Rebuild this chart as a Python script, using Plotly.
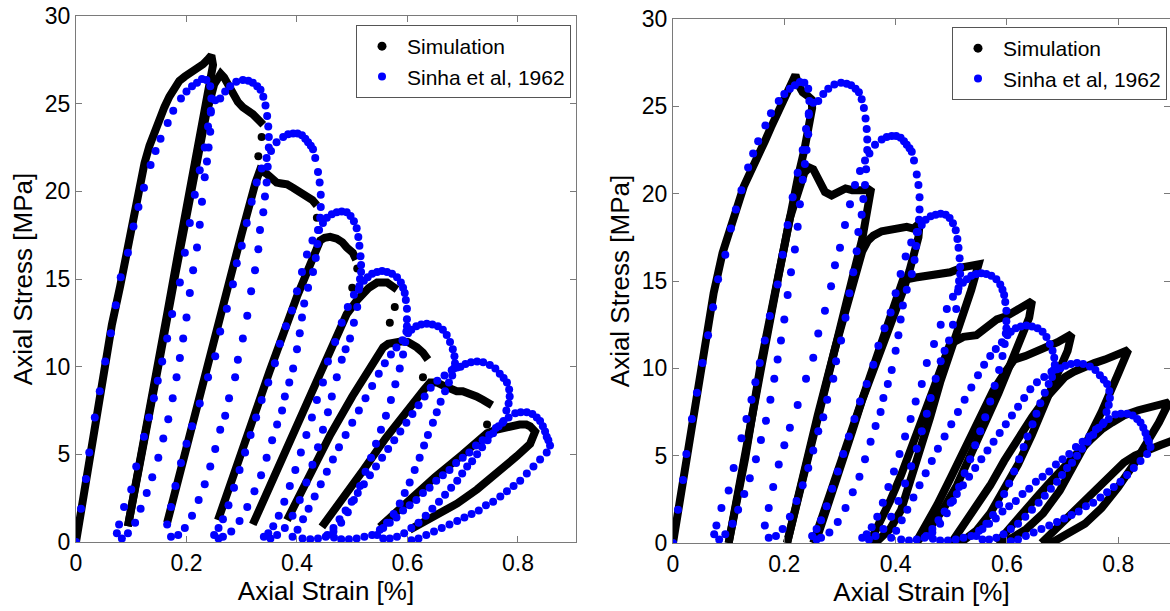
import plotly.graph_objects as go

# ---------------- Experimental data (Sinha et al, 1962) ----------------
EXP_ENV_X = [0.000, 0.009, 0.018, 0.024, 0.034, 0.043, 0.053, 0.063, 0.072, 0.081, 0.094, 0.104, 0.113, 0.123, 0.135, 0.144, 0.153, 0.166, 0.176, 0.190, 0.200, 0.210, 0.219, 0.228, 0.236, 0.243]
EXP_ENV_Y = [0.0, 1.9, 3.6, 5.1, 7.1, 8.6, 10.3, 11.9, 13.5, 15.1, 16.5, 18.0, 19.1, 20.2, 21.5, 22.3, 23.0, 23.9, 24.6, 25.3, 25.7, 26.0, 26.2, 26.4, 26.35, 26.0]

EXP_U1_X = [0.245, 0.244, 0.243, 0.240, 0.237, 0.233, 0.228, 0.224, 0.219, 0.212, 0.206, 0.200, 0.194, 0.188, 0.182, 0.175, 0.167, 0.158, 0.149, 0.138, 0.128, 0.117, 0.107, 0.094, 0.083, 0.074]
EXP_U1_Y = [25.3, 24.5, 23.4, 22.5, 21.7, 20.8, 19.4, 18.1, 16.8, 15.5, 14.2, 12.8, 11.6, 10.5, 9.4, 8.2, 7.0, 5.9, 4.8, 3.7, 2.8, 1.9, 1.1, 0.5, 0.2, 0.5]
EXP_R1_X = [0.078, 0.087, 0.100, 0.109, 0.123, 0.132, 0.141, 0.148, 0.156, 0.165, 0.174, 0.188, 0.197, 0.206, 0.215, 0.224, 0.233, 0.239, 0.244]
EXP_R1_Y = [1.0, 2.0, 3.0, 4.3, 6.0, 7.1, 8.2, 9.2, 10.3, 11.6, 13.0, 14.8, 16.5, 18.2, 19.8, 21.2, 22.5, 23.7, 24.6]
EXP_D2_X = [0.252, 0.261, 0.270, 0.279, 0.290, 0.302, 0.312, 0.320, 0.328, 0.334, 0.339, 0.343, 0.346, 0.348, 0.349]
EXP_D2_Y = [25.2, 25.3, 25.7, 26.0, 26.25, 26.35, 26.3, 26.2, 26.0, 25.8, 25.4, 24.9, 24.3, 23.7, 23.1]

EXP_U2_X = [0.349, 0.347, 0.345, 0.342, 0.339, 0.333, 0.330, 0.324, 0.317, 0.310, 0.302, 0.293, 0.288, 0.277, 0.270, 0.261, 0.252, 0.243, 0.233, 0.222, 0.210, 0.197, 0.185, 0.172]
EXP_U2_Y = [22.5, 21.4, 20.5, 19.7, 18.8, 17.8, 16.7, 15.5, 14.3, 12.9, 11.6, 10.4, 9.4, 8.2, 7.2, 6.4, 5.3, 4.3, 3.3, 2.4, 1.5, 0.8, 0.4, 0.3]
EXP_R2_X = [0.165, 0.172, 0.180, 0.190, 0.200, 0.210, 0.224, 0.239, 0.252, 0.261, 0.273, 0.284, 0.291, 0.300, 0.309, 0.318, 0.327, 0.336, 0.345]
EXP_R2_Y = [1.0, 2.0, 3.2, 4.5, 5.6, 6.6, 7.9, 9.4, 10.6, 12.0, 13.3, 14.7, 15.9, 16.9, 18.2, 19.4, 20.5, 21.3, 21.9]
EXP_D3_X = [0.353, 0.363, 0.375, 0.384, 0.393, 0.401, 0.409, 0.415, 0.420, 0.425, 0.429, 0.433, 0.438, 0.441, 0.443, 0.443, 0.442]
EXP_D3_Y = [22.3, 22.8, 23.1, 23.25, 23.3, 23.3, 23.2, 23.0, 22.8, 22.6, 22.4, 21.9, 21.1, 20.5, 19.8, 19.1, 18.5]

EXP_U3_X = [0.440, 0.437, 0.434, 0.429, 0.420, 0.413, 0.409, 0.405, 0.400, 0.393, 0.386, 0.378, 0.373, 0.364, 0.355, 0.345, 0.335, 0.323, 0.310, 0.296, 0.281, 0.266, 0.258]
EXP_U3_Y = [17.8, 17.0, 16.2, 15.4, 14.5, 13.6, 12.8, 11.9, 11.0, 9.9, 9.1, 8.3, 7.5, 6.7, 5.8, 4.8, 3.8, 2.9, 2.0, 1.2, 0.6, 0.3, 0.2]
EXP_R3_X = [0.250, 0.258, 0.266, 0.276, 0.286, 0.296, 0.306, 0.316, 0.326, 0.336, 0.348, 0.360, 0.369, 0.380, 0.391, 0.400, 0.409, 0.418, 0.428, 0.438, 0.447]
EXP_R3_Y = [0.4, 0.8, 1.3, 2.1, 3.1, 4.1, 5.1, 6.1, 7.1, 8.1, 9.1, 10.2, 11.3, 12.3, 13.2, 14.3, 15.4, 16.4, 17.2, 17.8, 18.2]
EXP_D4_X = [0.454, 0.463, 0.472, 0.481, 0.490, 0.497, 0.503, 0.508, 0.511, 0.513, 0.515, 0.516, 0.516, 0.514]
EXP_D4_Y = [18.5, 18.7, 18.8, 18.85, 18.8, 18.6, 18.3, 17.9, 17.4, 16.9, 16.3, 15.8, 15.4, 15.0]

EXP_U4_X = [0.512, 0.509, 0.503, 0.496, 0.488, 0.481, 0.472, 0.463, 0.456, 0.447, 0.438, 0.428, 0.417, 0.405, 0.392, 0.378, 0.364, 0.352]
EXP_U4_Y = [14.4, 13.4, 12.5, 11.6, 11.0, 10.4, 9.4, 8.3, 7.4, 6.4, 5.4, 4.4, 3.4, 2.4, 1.5, 0.8, 0.4, 0.2]
EXP_R4_X = [0.340, 0.348, 0.357, 0.367, 0.377, 0.387, 0.397, 0.407, 0.417, 0.427, 0.436, 0.447, 0.456, 0.469, 0.481, 0.492, 0.503, 0.513, 0.521]
EXP_R4_Y = [0.3, 0.5, 0.9, 1.5, 2.3, 3.2, 4.1, 5.1, 6.1, 7.1, 8.1, 9.1, 10.3, 11.4, 12.5, 13.4, 14.1, 14.6, 14.9]
EXP_D5_X = [0.528, 0.536, 0.545, 0.554, 0.563, 0.572, 0.581, 0.588, 0.592, 0.595, 0.597, 0.599, 0.599, 0.599, 0.598]
EXP_D5_Y = [15.1, 15.3, 15.4, 15.45, 15.4, 15.3, 15.1, 14.8, 14.5, 14.2, 13.8, 13.3, 12.7, 12.3, 12.0]

EXP_U5_X = [0.596, 0.592, 0.586, 0.578, 0.570, 0.561, 0.552, 0.543, 0.534, 0.524, 0.514, 0.503, 0.492, 0.480, 0.466, 0.452, 0.438, 0.424, 0.410]
EXP_U5_Y = [11.4, 10.7, 9.9, 9.0, 8.1, 7.2, 6.4, 5.6, 4.8, 4.0, 3.2, 2.4, 1.7, 1.1, 0.6, 0.3, 0.2, 0.15, 0.2]
EXP_R5_X = [0.392, 0.401, 0.411, 0.421, 0.432, 0.443, 0.454, 0.465, 0.476, 0.488, 0.500, 0.512, 0.524, 0.536, 0.548, 0.559, 0.570, 0.580, 0.591, 0.601]
EXP_R5_Y = [0.3, 0.7, 1.3, 1.9, 2.6, 3.3, 4.0, 4.7, 5.4, 6.1, 6.8, 7.5, 8.2, 8.9, 9.6, 10.2, 10.7, 11.1, 11.5, 11.9]
EXP_D6_X = [0.607, 0.616, 0.625, 0.635, 0.645, 0.655, 0.664, 0.671, 0.677, 0.682, 0.685, 0.686, 0.684]
EXP_D6_Y = [12.1, 12.3, 12.4, 12.45, 12.4, 12.3, 12.1, 11.8, 11.4, 11.0, 10.6, 10.2, 9.9]

EXP_U6_X = [0.681, 0.675, 0.668, 0.660, 0.653, 0.646, 0.637, 0.630, 0.622, 0.613, 0.604, 0.595, 0.586, 0.575, 0.563, 0.550, 0.536, 0.522, 0.508, 0.494, 0.480, 0.467]
EXP_U6_Y = [9.5, 9.1, 8.6, 8.0, 7.4, 6.8, 6.1, 5.5, 4.8, 4.1, 3.4, 2.8, 2.2, 1.6, 1.1, 0.7, 0.4, 0.3, 0.2, 0.15, 0.15, 0.25]
EXP_R6_X = [0.455, 0.466, 0.477, 0.488, 0.499, 0.510, 0.521, 0.532, 0.543, 0.554, 0.565, 0.576, 0.587, 0.598, 0.609, 0.620, 0.631, 0.642, 0.654, 0.667, 0.680, 0.690]
EXP_R6_Y = [0.4, 0.8, 1.3, 1.8, 2.3, 2.8, 3.3, 3.8, 4.3, 4.8, 5.3, 5.8, 6.3, 6.8, 7.3, 7.8, 8.3, 8.8, 9.2, 9.5, 9.8, 9.95]
EXP_D7_X = [0.696, 0.705, 0.715, 0.726, 0.737, 0.749, 0.759, 0.767, 0.774, 0.780, 0.784, 0.785, 0.783, 0.779]
EXP_D7_Y = [10.0, 10.15, 10.25, 10.3, 10.25, 10.1, 9.9, 9.6, 9.35, 9.1, 8.7, 8.3, 7.9, 7.5]

EXP_U7_X = [0.774, 0.765, 0.755, 0.745, 0.735, 0.726, 0.717, 0.708, 0.699, 0.690, 0.679, 0.668, 0.657, 0.645, 0.633, 0.620, 0.607, 0.594, 0.581, 0.568, 0.556]
EXP_U7_Y = [6.9, 6.6, 6.2, 5.8, 5.4, 5.0, 4.6, 4.3, 3.9, 3.5, 3.1, 2.7, 2.3, 1.9, 1.5, 1.1, 0.8, 0.5, 0.3, 0.2, 0.2]
EXP_R7_X = [0.545, 0.556, 0.568, 0.580, 0.592, 0.604, 0.616, 0.628, 0.640, 0.652, 0.664, 0.676, 0.688, 0.700, 0.712, 0.724, 0.736, 0.748, 0.760, 0.772, 0.783]
EXP_R7_Y = [0.4, 0.8, 1.1, 1.4, 1.8, 2.1, 2.4, 2.8, 3.1, 3.5, 3.8, 4.1, 4.5, 4.8, 5.1, 5.5, 5.8, 6.1, 6.5, 6.8, 7.1]
EXP_D8_X = [0.795, 0.805, 0.816, 0.826, 0.834, 0.840, 0.845, 0.849, 0.852, 0.855, 0.858]
EXP_D8_Y = [7.35, 7.4, 7.4, 7.3, 7.1, 6.9, 6.6, 6.3, 6.0, 5.8, 5.5]
EXP_U8_X = [0.852, 0.840, 0.828, 0.816, 0.804, 0.792, 0.780, 0.768, 0.755, 0.742, 0.729, 0.716, 0.703, 0.690, 0.676, 0.662, 0.648, 0.634, 0.620, 0.607]
EXP_U8_Y = [5.1, 4.7, 4.3, 3.9, 3.5, 3.2, 2.9, 2.6, 2.3, 2.1, 1.8, 1.6, 1.4, 1.2, 1.0, 0.8, 0.6, 0.4, 0.2, 0.1]

# ---------------- Simulation, left panel ----------------
S1_C1_X = [0.000, 0.010, 0.020, 0.035, 0.050, 0.065, 0.080, 0.090, 0.100, 0.108, 0.116, 0.124, 0.133, 0.142, 0.151, 0.160, 0.169, 0.178, 0.187, 0.197, 0.208, 0.220, 0.230, 0.238, 0.245, 0.248, 0.240, 0.225, 0.205, 0.185, 0.165, 0.140, 0.118, 0.094]
S1_C1_Y = [0.0, 1.9, 3.7, 7.0, 10.0, 12.4, 14.6, 16.2, 17.9, 19.3, 20.6, 21.6, 22.6, 23.4, 24.1, 24.8, 25.4, 25.9, 26.3, 26.55, 26.75, 27.0, 27.25, 27.5, 27.75, 27.2, 25.9, 23.3, 19.9, 16.5, 13.0, 8.7, 5.0, 0.9]
S1_C2_X = [0.094, 0.120, 0.150, 0.180, 0.210, 0.235, 0.250, 0.257, 0.262, 0.268, 0.273, 0.279, 0.284, 0.293, 0.302, 0.320, 0.339]
S1_C2_Y = [0.9, 5.0, 10.2, 15.3, 20.4, 24.3, 26.1, 26.6, 26.7, 26.5, 26.2, 25.7, 25.4, 25.1, 24.8, 24.4, 23.8]
S1_C3_X = [0.165, 0.200, 0.250, 0.300, 0.325, 0.333, 0.345, 0.355, 0.363, 0.372, 0.382, 0.393, 0.405, 0.418, 0.428, 0.436]
S1_C3_Y = [1.1, 5.5, 11.7, 17.6, 20.5, 21.2, 21.0, 20.7, 20.5, 20.45, 20.4, 20.2, 20.0, 19.7, 19.5, 19.2]
S1_C4_X = [0.257, 0.300, 0.350, 0.400, 0.430, 0.442, 0.450, 0.460, 0.472, 0.482, 0.490, 0.501, 0.507]
S1_C4_Y = [1.25, 5.2, 9.7, 14.0, 16.5, 17.2, 17.35, 17.4, 17.3, 17.1, 16.8, 16.5, 16.1]
S1_C5_X = [0.320, 0.360, 0.400, 0.450, 0.490, 0.509, 0.515, 0.520, 0.530, 0.545, 0.555, 0.563, 0.572, 0.581]
S1_C5_Y = [1.0, 3.8, 6.7, 10.3, 13.0, 13.8, 14.0, 14.2, 14.5, 14.8, 14.85, 14.8, 14.6, 14.4]
S1_C6_X = [0.382, 0.420, 0.460, 0.500, 0.530, 0.550, 0.556, 0.565, 0.575, 0.590, 0.601, 0.610, 0.617, 0.628, 0.637]
S1_C6_Y = [1.25, 3.6, 6.1, 8.3, 9.9, 10.8, 11.1, 11.3, 11.4, 11.45, 11.4, 11.25, 11.1, 10.8, 10.4]
S1_C7_X = [0.445, 0.480, 0.520, 0.560, 0.600, 0.630, 0.641, 0.653, 0.663, 0.673, 0.689, 0.700, 0.713, 0.725, 0.737, 0.753]
S1_C7_Y = [0.86, 2.3, 4.1, 5.9, 7.6, 8.7, 9.1, 9.1, 8.95, 8.8, 8.6, 8.6, 8.5, 8.3, 8.1, 7.8]
S1_C8_X = [0.550, 0.600, 0.650, 0.700, 0.730, 0.744, 0.760, 0.773, 0.790, 0.803, 0.815, 0.822, 0.831, 0.825, 0.822, 0.798, 0.762, 0.726, 0.690, 0.646, 0.604]
S1_C8_Y = [0.86, 2.3, 3.7, 5.0, 5.8, 6.2, 6.4, 6.5, 6.6, 6.7, 6.7, 6.6, 6.3, 5.9, 5.6, 4.9, 3.9, 3.0, 2.2, 1.4, 0.7]
S1_DROP_X = [0.336, 0.330, 0.436, 0.509, 0.500, 0.577, 0.568, 0.628, 0.744]
S1_DROP_Y = [23.1, 22.0, 18.5, 15.6, 14.5, 13.4, 12.5, 9.4, 6.7]

# ---------------- Simulation, right panel ----------------
S2_C1_X = [0.000, 0.010, 0.020, 0.035, 0.050, 0.065, 0.073, 0.089, 0.104, 0.116, 0.127, 0.140, 0.153, 0.165, 0.176, 0.188, 0.198, 0.212, 0.220, 0.226, 0.233, 0.242, 0.249, 0.250, 0.246, 0.236, 0.225, 0.213, 0.200, 0.189, 0.160, 0.130, 0.100]
S2_C1_Y = [0.0, 1.9, 3.7, 7.0, 10.0, 12.7, 14.3, 16.6, 18.1, 19.3, 20.4, 21.3, 22.1, 23.0, 23.8, 24.6, 25.4, 26.3, 26.8, 26.2, 25.8, 25.6, 25.4, 24.9, 24.0, 22.5, 21.0, 19.2, 17.3, 15.2, 10.3, 5.2, 0.0]
S2_C2_X = [0.100, 0.130, 0.158, 0.185, 0.210, 0.236, 0.245, 0.252, 0.262, 0.273, 0.285, 0.298, 0.310, 0.322, 0.335, 0.350, 0.356, 0.350, 0.340, 0.325, 0.310, 0.298, 0.282, 0.267, 0.249, 0.225, 0.205]
S2_C2_Y = [0.0, 4.9, 10.3, 14.9, 18.6, 21.2, 21.5, 21.4, 20.8, 20.1, 19.9, 20.1, 20.3, 20.2, 20.15, 20.2, 20.3, 19.2, 17.4, 15.5, 13.6, 12.0, 10.0, 8.2, 6.0, 3.0, 0.0]
S2_C3_X = [0.205, 0.230, 0.260, 0.290, 0.315, 0.330, 0.340, 0.350, 0.360, 0.375, 0.390, 0.405, 0.420, 0.432, 0.443, 0.441, 0.434, 0.425, 0.413, 0.398, 0.382, 0.368, 0.353, 0.340, 0.322, 0.300, 0.280, 0.262, 0.252]
S2_C3_Y = [0.0, 3.4, 7.3, 11.0, 14.0, 15.7, 16.7, 17.3, 17.6, 17.85, 17.95, 18.05, 18.1, 18.0, 18.3, 17.5, 16.6, 15.6, 14.4, 13.1, 12.0, 10.8, 9.5, 8.2, 6.4, 4.3, 2.3, 0.6, 0.0]
S2_C4_X = [0.252, 0.280, 0.310, 0.340, 0.370, 0.395, 0.413, 0.436, 0.462, 0.498, 0.522, 0.549, 0.536, 0.518, 0.498, 0.480, 0.462, 0.443, 0.425, 0.410, 0.390, 0.370, 0.353]
S2_C4_Y = [0.0, 2.6, 5.4, 8.2, 11.0, 13.3, 15.05, 15.2, 15.3, 15.5, 15.8, 15.95, 14.5, 12.9, 11.0, 9.2, 7.2, 5.3, 3.4, 1.9, 0.8, 0.2, 0.0]
S2_C5_X = [0.353, 0.370, 0.390, 0.410, 0.430, 0.450, 0.470, 0.485, 0.491, 0.498, 0.510, 0.522, 0.545, 0.560, 0.582, 0.600, 0.618, 0.645, 0.640, 0.627, 0.607, 0.585, 0.560, 0.535, 0.510, 0.485, 0.460, 0.436]
S2_C5_Y = [0.0, 1.0, 2.4, 3.9, 5.5, 7.2, 9.0, 10.3, 11.0, 11.4, 11.6, 11.8, 11.9, 12.3, 12.8, 13.0, 13.3, 13.85, 12.9, 11.8, 10.3, 8.6, 6.8, 5.0, 3.3, 1.9, 0.8, 0.0]
S2_C6_X = [0.436, 0.455, 0.475, 0.500, 0.525, 0.550, 0.575, 0.595, 0.613, 0.633, 0.655, 0.675, 0.691, 0.716, 0.709, 0.691, 0.670, 0.645, 0.620, 0.595, 0.570, 0.545, 0.520, 0.500]
S2_C6_Y = [0.0, 1.0, 2.2, 3.8, 5.5, 7.2, 8.7, 9.7, 10.5, 10.7, 11.0, 11.2, 11.5, 11.95, 11.0, 9.7, 8.0, 6.2, 4.5, 3.0, 1.7, 0.7, 0.1, 0.0]
S2_C7_X = [0.500, 0.520, 0.545, 0.570, 0.595, 0.620, 0.645, 0.670, 0.690, 0.704, 0.720, 0.740, 0.757, 0.776, 0.795, 0.818, 0.800, 0.789, 0.770, 0.745, 0.720, 0.695, 0.665, 0.635, 0.605, 0.582]
S2_C7_Y = [0.0, 0.9, 2.0, 3.3, 4.7, 6.0, 7.2, 8.3, 9.0, 9.5, 9.8, 10.1, 10.3, 10.5, 10.7, 11.05, 9.7, 8.8, 7.5, 5.9, 4.4, 3.0, 1.7, 0.8, 0.2, 0.0]
S2_C8_X = [0.582, 0.600, 0.625, 0.650, 0.675, 0.700, 0.725, 0.750, 0.770, 0.789, 0.810, 0.836, 0.860, 0.891, 0.873, 0.855, 0.830, 0.800, 0.770, 0.740, 0.710, 0.685, 0.662]
S2_C8_Y = [0.0, 0.7, 1.6, 2.5, 3.4, 4.3, 5.1, 5.9, 6.5, 6.9, 7.3, 7.6, 7.8, 8.05, 6.9, 5.9, 4.6, 3.2, 2.0, 1.1, 0.5, 0.1, 0.0]
S2_C9_X = [0.662, 0.685, 0.710, 0.735, 0.760, 0.785, 0.810, 0.830, 0.849, 0.875, 0.900]
S2_C9_Y = [0.0, 0.7, 1.5, 2.3, 3.1, 3.9, 4.6, 5.0, 5.3, 5.6, 5.9]

X_TICKS = [0, 0.2, 0.4, 0.6, 0.8]
X_TICK_TEXT = ["0", "0.2", "0.4", "0.6", "0.8"]
Y_TICKS = [0, 5, 10, 15, 20, 25, 30]

EXP_SEGMENTS = [
    (EXP_ENV_X, EXP_ENV_Y), (EXP_U1_X, EXP_U1_Y), (EXP_R1_X, EXP_R1_Y), (EXP_D2_X, EXP_D2_Y),
    (EXP_U2_X, EXP_U2_Y), (EXP_R2_X, EXP_R2_Y), (EXP_D3_X, EXP_D3_Y),
    (EXP_U3_X, EXP_U3_Y), (EXP_R3_X, EXP_R3_Y), (EXP_D4_X, EXP_D4_Y),
    (EXP_U4_X, EXP_U4_Y), (EXP_R4_X, EXP_R4_Y), (EXP_D5_X, EXP_D5_Y),
    (EXP_U5_X, EXP_U5_Y), (EXP_R5_X, EXP_R5_Y), (EXP_D6_X, EXP_D6_Y),
    (EXP_U6_X, EXP_U6_Y), (EXP_R6_X, EXP_R6_Y), (EXP_D7_X, EXP_D7_Y),
    (EXP_U7_X, EXP_U7_Y), (EXP_R7_X, EXP_R7_Y), (EXP_D8_X, EXP_D8_Y),
    (EXP_U8_X, EXP_U8_Y),
]
S1_SEGMENTS = [(S1_C1_X, S1_C1_Y), (S1_C2_X, S1_C2_Y), (S1_C3_X, S1_C3_Y), (S1_C4_X, S1_C4_Y),
               (S1_C5_X, S1_C5_Y), (S1_C6_X, S1_C6_Y), (S1_C7_X, S1_C7_Y), (S1_C8_X, S1_C8_Y)]
S2_SEGMENTS = [(S2_C1_X, S2_C1_Y), (S2_C2_X, S2_C2_Y), (S2_C3_X, S2_C3_Y), (S2_C4_X, S2_C4_Y),
               (S2_C5_X, S2_C5_Y), (S2_C6_X, S2_C6_Y), (S2_C7_X, S2_C7_Y), (S2_C8_X, S2_C8_Y),
               (S2_C9_X, S2_C9_Y)]


def concat(segs, gap=False):
    xs, ys = [], []
    for sx, sy in segs:
        xs += list(sx)
        ys += list(sy)
        if gap:
            xs.append(None)
            ys.append(None)
    return xs, ys


BLUE = "#0000ff"
FONT = "Liberation Sans, Arial, sans-serif"
W, H = 1170, 611

fig = go.Figure()

exp_x, exp_y = concat(EXP_SEGMENTS)
s1_x, s1_y = concat(S1_SEGMENTS, gap=True)
s2_x, s2_y = concat(S2_SEGMENTS, gap=True)

for xa, ya, sx, sy, lg in [("x", "y", s1_x, s1_y, "legend"), ("x2", "y2", s2_x, s2_y, "legend2")]:
    fig.add_trace(go.Scatter(x=sx, y=sy, mode="lines", xaxis=xa, yaxis=ya,
                             line=dict(color="black", width=8), showlegend=False,
                             hoverinfo="skip"))
    if xa == "x":
        fig.add_trace(go.Scatter(x=S1_DROP_X, y=S1_DROP_Y, mode="markers", xaxis=xa, yaxis=ya,
                                 marker=dict(color="black", size=8), showlegend=False))
    fig.add_trace(go.Scatter(x=[None], y=[None], mode="markers", xaxis=xa, yaxis=ya,
                             marker=dict(color="black", size=9), name="Simulation", legend=lg))
    fig.add_trace(go.Scatter(x=exp_x, y=exp_y, mode="markers", xaxis=xa, yaxis=ya,
                             marker=dict(color=BLUE, size=8, line=dict(width=0)),
                             name="Sinha et al, 1962", legend=lg))

axis_common = dict(showline=True, linecolor="#7a7a7a", linewidth=1, mirror="ticks",
                   ticks="inside", ticklen=6, tickcolor="#7a7a7a", showgrid=False, zeroline=False,
                   automargin=False, ticklabeloverflow="allow",
                   tickfont=dict(family=FONT, size=23, color="black"))


def px_x(p):
    return p / W


def px_y(p):
    return 1 - p / H


xdom1 = [px_x(76), px_x(576)]
xdom2 = [px_x(673), 1.0]
ydom1 = [px_y(542), px_y(16)]
ydom2 = [px_y(543), px_y(19)]

fig.update_layout(
    width=W, height=H, margin=dict(l=0, r=0, t=0, b=0, autoexpand=False),
    paper_bgcolor="white", plot_bgcolor="white",
    font=dict(family=FONT, color="black"),
    xaxis=dict(domain=xdom1, range=[0, 0.905], tickvals=X_TICKS, ticktext=X_TICK_TEXT,
               anchor="y", title=dict(text="Axial Strain [%]", font=dict(size=26), standoff=2),
               **axis_common),
    yaxis=dict(domain=ydom1, range=[0, 30], tickvals=Y_TICKS, anchor="x",
               title=dict(text="Axial Stress [MPa]", font=dict(size=26), standoff=4),
               **axis_common),
    xaxis2=dict(domain=xdom2, range=[0, 0.893], tickvals=X_TICKS, ticktext=X_TICK_TEXT,
                anchor="y2", title=dict(text="Axial Strain [%]", font=dict(size=26), standoff=2),
                **axis_common),
    yaxis2=dict(domain=ydom2, range=[0, 30], tickvals=Y_TICKS, anchor="x2",
                title=dict(text="Axial Stress [MPa]", font=dict(size=26), standoff=4),
                **axis_common),
    legend=dict(x=px_x(571), y=px_y(25), xanchor="right", yanchor="top",
                bordercolor="#555555", borderwidth=1, bgcolor="white",
                font=dict(family=FONT, size=21), itemwidth=40),
    legend2=dict(x=px_x(1167), y=px_y(27), xanchor="right", yanchor="top",
                 bordercolor="#555555", borderwidth=1, bgcolor="white",
                 font=dict(family=FONT, size=21), itemwidth=40),
)

# drop the page's default 8px body margin so the figure sits at the window corner
fig.write_html("out.html", config={"displayModeBar": False},
               post_script="document.body.style.margin='0px';")
